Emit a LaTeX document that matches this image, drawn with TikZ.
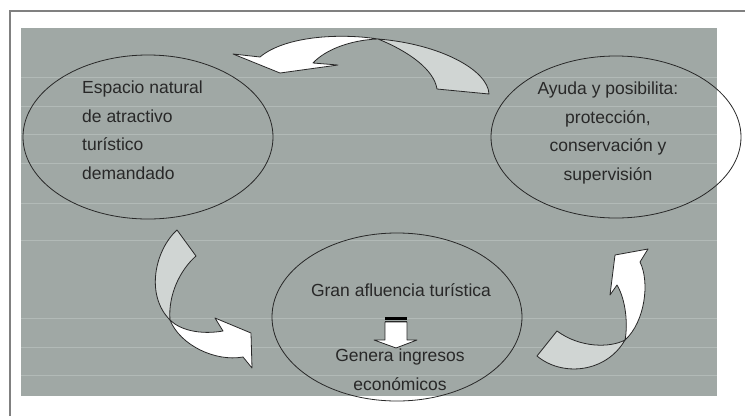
\documentclass[tikz,border=0pt]{standalone}
\usepackage{fontspec}
\setmainfont{Liberation Sans}
\usetikzlibrary{shapes.geometric}
\definecolor{slate}{RGB}{160,168,165}
\definecolor{stripe}{RGB}{178,186,183}
\definecolor{back}{RGB}{208,213,211}
\definecolor{ink}{RGB}{40,40,40}
\begin{document}
\begin{tikzpicture}[x=1pt,y=-1pt]
\fontsize{17.5}{28.4}\selectfont
\tikzset{
    field/.style={ellipse, draw=ink, line width=0.8pt, minimum width=250pt, minimum height=164pt, inner sep=0pt},
    words/.style={text=ink, inner sep=0pt},
    front/.style={fill=white, draw=ink, line width=0.8pt, line join=round},
    rear/.style={fill=back, draw=ink, line width=0.8pt, line join=round},
    rule/.style={draw=stripe, line width=0.8pt},
}
\useasboundingbox (0,0) rectangle (745,416);
\fill[white] (0,0) rectangle (745,416);

% Frame and grey panel.
\draw[gray, line width=1.5pt] (10,416) -- (10,11) -- (745,11);
\fill[slate] (21,28) rectangle (717,396);
\draw[rule] (21,77) -- (717,77);
\draw[rule] (21,106) -- (717,106);
\draw[rule] (21,134) -- (717,134);
\draw[rule] (21,163) -- (717,163);
\draw[rule] (21,203) -- (717,203);
\draw[rule] (21,240) -- (717,240);
\draw[rule] (21,318) -- (717,318);
\draw[rule] (21,347) -- (717,347);
\draw[rule] (21,375) -- (717,375);

% The three ellipses.
\node[field] (natural) at (148,137) {};
\node[field, minimum height=162pt] (ayuda) at (616,137) {};
\node[field, minimum height=168pt] (afluencia) at (397,317) {};

% Texts (base = baseline of the last line).
\node[words, anchor=base west, align=left] (naturaltext) at (82,179)
    {Espacio natural\\de atractivo\\turístico\\demandado};
\node[words, anchor=base, align=center] (ayudatext) at (608,180)
    {Ayuda y posibilita:\\protección,\\conservación y\\supervisión};
\node[words, anchor=base] (grantext) at (401,296) {Gran afluencia turística};
\node[words, anchor=base, align=center] (generatext) at (400,390)
    {Genera ingresos\\económicos};

% Small arrow between the two lines of the bottom ellipse.
\path[front] (385,322) -- (407,322) -- (407,340) -- (417,340) -- (396,348)
    -- (374,340) -- (385,340) -- cycle;
\fill[black] (385,317) rectangle (407,319.5);
\draw[ink, line width=0.8pt] (385,321) -- (407,321);

% Crossing points where each arrow turns over.
\coordinate (ctop) at (378,39);   % top arrow
\coordinate (cleft) at (170,320); % left arrow
\coordinate (cright) at (625,340);% right arrow

% Top arrow: from the right ellipse back to the left one.
\path[rear] (ctop) .. controls (440,44) and (488,70) .. (489,94) -- (437,89)
    .. controls (434,70) and (410,52) .. (ctop) -- cycle;
\path[front] (ctop) .. controls (340,33) and (285,36) .. (260,57) -- (233,54)
    -- (280,73) -- (338,65) -- (313,63) .. controls (325,50) and (350,40) .. (ctop) -- cycle;

% Left arrow: down to the bottom ellipse.
\path[rear] (177,230) .. controls (155,250) and (145,295) .. (cleft)
    .. controls (168,295) and (180,270) .. (196,256) -- cycle;
\path[front] (cleft) .. controls (180,345) and (215,362) .. (243,357) -- (252,368)
    -- (251,333) -- (215,318) -- (223,331) .. controls (200,335) and (180,330) .. (cleft) -- cycle;

% Right arrow: up to the right ellipse.
\path[rear] (537,356) .. controls (562,377) and (606,373) .. (cright)
    .. controls (610,348) and (580,348) .. (557,331) -- cycle;
\path[front] (cright) .. controls (628,325) and (626,300) .. (617,285) -- (610,295)
    -- (615,255) -- (648,249) -- (640,262) .. controls (650,282) and (645,322) .. (cright) -- cycle;
\end{tikzpicture}
\end{document}
